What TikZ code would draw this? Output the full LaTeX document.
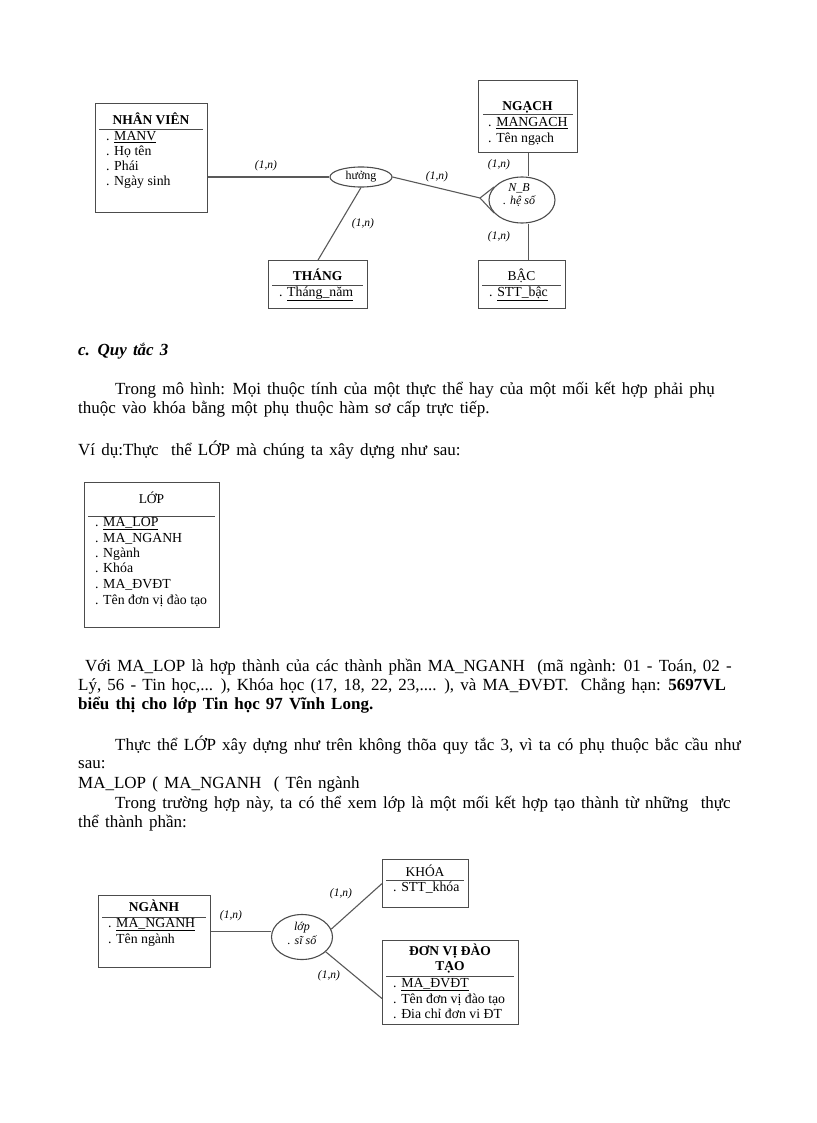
\documentclass[tikz,border=0pt]{standalone}
\usepackage{fontspec}
\setmainfont{Liberation Serif}
\newfontfamily\bodyfont[WordSpace=1.45]{Liberation Serif}
\usetikzlibrary{positioning}
\usetikzlibrary{shapes.geometric}

\begin{document}
\begin{tikzpicture}[
    x=1pt, y=-1pt,
    entity/.style={rectangle, draw=black!70, line width=1.1pt, anchor=north west, inner sep=0pt},
    rel/.style={ellipse, draw=black!70, line width=1.1pt, inner sep=0pt},
    reltext/.style={inner sep=0pt, align=center, font=\fontsize{12}{13.5}\selectfont\itshape},
    title/.style={inner sep=0pt, text height=9.5pt, text depth=3pt, font=\fontsize{13.5}{15}\selectfont\bfseries},
    titler/.style={title, font=\fontsize{13.5}{15}\selectfont},
    attr/.style={inner sep=0pt, anchor=west, text height=9.5pt, text depth=3pt, font=\fontsize{13.8}{15}\selectfont},
    card/.style={inner sep=0pt, font=\fontsize{11.5}{12}\selectfont\itshape},
    sep/.style={draw=black!70, line width=0.9pt},
    link/.style={draw=black!65, line width=1.1pt},
    body/.style={inner sep=0pt, anchor=base west, font=\bodyfont\fontsize{17}{19}\selectfont}
]
    \useasboundingbox (0,0) rectangle (816,1123);

    % top diagram
    \node[entity, minimum width=112pt, minimum height=109pt] (nv) at (95,103) {};
    \node[title] (nvt) at (151,121) {NHÂN VIÊN};
    \draw[sep] (99,129) -- (203,129);
    \foreach \t [count=\i] in {{. \underline{MANV}}, {. Họ tên}, {. Phái}, {. Ngày sinh}}
        \node[attr] (nv\i) at (106,122+15*\i) {\t};

    \node[entity, minimum width=99pt, minimum height=72pt] (ngach) at (478,80) {};
    \node[title] (ngacht) at (527.5,107) {NGẠCH};
    \draw[sep] (483,114) -- (573,114);
    \node[attr] (ngach1) at (488,123) {. \underline{MANGACH}};
    \node[attr] (ngach2) at (488,139) {. Tên ngạch};

    \node[rel, minimum width=62pt, minimum height=20pt, font=\fontsize{12}{13.5}\selectfont] (huong) at (361,177) {hưởng};
    \node[rel, minimum width=66pt, minimum height=46pt] (nb) at (522,200) {};
    \node[reltext] (nbt) at (519,195) {N\_B\\. hệ số};
    \coordinate (nbtip) at (480,198);

    \node[entity, minimum width=99pt, minimum height=48pt] (thang) at (268,260) {};
    \node[title] (thangt) at (317.5,277) {THÁNG};
    \draw[sep] (272,285) -- (363,285);
    \node[attr] (thang1) at (279,293) {. \underline{Tháng\_năm}};

    \node[entity, minimum width=87pt, minimum height=48pt] (bac) at (478,260) {};
    \node[titler] (bact) at (521.5,277) {BẬC};
    \draw[sep] (482,285) -- (561,285);
    \node[attr] (bac1) at (489,293) {. \underline{STT\_bậc}};

    \draw[link] (nv.east |- huong.west) -- (huong.west);
    \draw[link] (huong.east) -- (nbtip);
    \draw[link] (nbtip) -- (nb.155);
    \draw[link] (nbtip) -- (nb.205);
    \draw[link] (ngach.south) -- (ngach.south |- nb.north);
    \draw[link] (bac.north -| ngach.south) -- (ngach.south |- nb.south);
    \draw[link] (huong.south) -- (thang.north);

    \node[card] (c1) at (266,166) {(1,n)};
    \node[card] (c2) at (437,177) {(1,n)};
    \node[card] (c3) at (499,165) {(1,n)};
    \node[card] (c4) at (363,224) {(1,n)};
    \node[card] (c5) at (499,237) {(1,n)};

    % text
    \node[body, font=\bodyfont\fontsize{17}{19}\selectfont\bfseries\itshape] (t1) at (78,355) {c. Quy tắc 3};
    \node[body] (t2) at (115,394) {Trong mô hình: Mọi thuộc tính của một thực thể hay của một mối kết hợp phải phụ};
    \node[body] (t3) at (78,413) {thuộc vào khóa bằng một phụ thuộc hàm sơ cấp trực tiếp.};
    \node[body] (t4) at (78,455) {Ví dụ:Thực~ thể LỚP mà chúng ta xây dựng như sau:};

    % LOP entity
    \node[entity, minimum width=135pt, minimum height=145pt] (lopbox) at (84,482) {};
    \node[titler] (lopboxt) at (151.5,500) {LỚP};
    \draw[sep] (88,516) -- (215,516);
    \foreach \t/\y [count=\i] in {{. \underline{MA\_LOP}}/523, {. MA\_NGANH}/539, {. Ngành}/554, {. Khóa}/569, {. MA\_ĐVĐT}/585, {. Tên đơn vị đào tạo}/601}
        \node[attr] (lopbox\i) at (95,\y) {\t};

    \node[body] (t5) at (85,671) {Với MA\_LOP là hợp thành của các thành phần MA\_NGANH~ (mã ngành: 01 - Toán, 02 -};
    \node[body] (t6) at (78,690) {Lý, 56 - Tin học,... ), Khóa học (17, 18, 22, 23,.... ), và MA\_ĐVĐT.~ Chẳng hạn: \textbf{5697VL}};
    \node[body, font=\bodyfont\fontsize{17}{19}\selectfont\bfseries] (t7) at (78,709) {biểu thị cho lớp Tin học 97 Vĩnh Long.};
    \node[body] (t8) at (115,750) {Thực thể LỚP xây dựng như trên không thõa quy tắc 3, vì ta có phụ thuộc bắc cầu như};
    \node[body] (t9) at (78,768) {sau:};
    \node[body] (t10) at (78,788) {MA\_LOP ( MA\_NGANH~ ( Tên ngành};
    \node[body] (t11) at (115,808) {Trong trường hợp này, ta có thể xem lớp là một mối kết hợp tạo thành từ những~ thực};
    \node[body] (t12) at (78,827) {thể thành phần:};

    % bottom diagram
    \node[entity, minimum width=112pt, minimum height=72pt] (nganh) at (98,895) {};
    \node[title] (nganht) at (154,908) {NGÀNH};
    \draw[sep] (102,917) -- (206,917);
    \node[attr] (nganh1) at (108,924) {. \underline{MA\_NGANH}};
    \node[attr] (nganh2) at (108,940) {. Tên ngành};

    \node[rel, minimum width=61pt, minimum height=45pt] (lop) at (302,937) {};
    \node[reltext] (lopt) at (302,933.5) {lớp\\. sĩ số};

    \node[entity, minimum width=86pt, minimum height=48pt] (khoa) at (382,859) {};
    \node[titler] (khoat) at (425,873) {KHÓA};
    \draw[sep] (386,880) -- (464,880);
    \node[attr] (khoa1) at (393,888) {. STT\_khóa};

    \node[entity, minimum width=136pt, minimum height=84pt] (dv) at (382,940) {};
    \node[title] (dvt1) at (450,952) {ĐƠN VỊ ĐÀO};
    \node[title] (dvt2) at (450,967) {TẠO};
    \draw[sep] (386,976) -- (514,976);
    \node[attr] (dv1) at (393,984) {. \underline{MA\_ĐVĐT}};
    \node[attr] (dv2) at (393,1000) {. Tên đơn vị đào tạo};
    \node[attr] (dv3) at (393,1015) {. Đia chỉ đơn vi ĐT};

    \draw[link] (nganh.east) -- (nganh.east -| lop.west);
    \draw[link] (lop.15) -- (khoa.west);
    \draw[link] (lop.-32) -- ([yshift=-16pt]dv.west);

    \node[card] (c6) at (231,916) {(1,n)};
    \node[card] (c7) at (341,894) {(1,n)};
    \node[card] (c8) at (329,976) {(1,n)};
\end{tikzpicture}
\end{document}
